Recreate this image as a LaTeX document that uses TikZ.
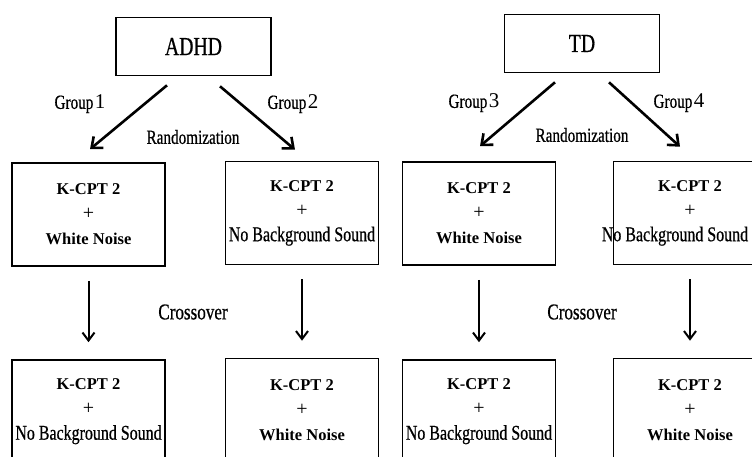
\documentclass[tikz,border=0pt]{standalone}
\usepackage{fontspec}
\setmainfont{Liberation Serif}
\newfontfamily\narrowfont[FakeStretch=0.76, FakeBold=0.6]{Liberation Serif}
\usetikzlibrary{arrows.meta, calc}

\newcommand{\grouplabel}[1]{Group\kern1.5pt{\rmfamily\fontsize{21}{24}\selectfont #1}}
\newcommand{\armtext}[1]{\textbf{K-CPT 2}\\{\fontsize{20}{25}\selectfont +}\\#1}
\newcommand{\nobg}{{\narrowfont\fontsize{21}{25}\selectfont No Background Sound}}
\newcommand{\wnoise}{\textbf{White Noise}}

\begin{document}
\begin{tikzpicture}[x=1pt,y=-1pt,>={Straight Barb[length=9pt,width=15pt]}]
        \tikzset{
            groupbox/.style={draw, line width=1.6pt, minimum width=155pt, minimum height=58pt, font=\narrowfont\fontsize{26}{30}\selectfont},
            armbox/.style={draw, line width=1.6pt, minimum width=153pt, minimum height=103pt, inner sep=0pt, align=center, font=\fontsize{16.5}{25}\selectfont},
            lbl/.style={font=\narrowfont\fontsize{20}{24}\selectfont},
            diag/.style={->, line width=2.6pt},
            vert/.style={-{Straight Barb[length=8pt,width=12pt]}, line width=2pt}
        }
        \useasboundingbox (0,0) rectangle (752,456);
        \clip (0,0) rectangle (752,456);
        % top boxes
        \node[groupbox] (adhd) at (193.5, 46.5) {ADHD};
        \node[groupbox] (td) at (582, 43.5) {TD};
        % first condition
        \node[armbox] (b1) at (88.5, 214.5) {\armtext{\wnoise}};
        \node[armbox] (b2) at (302, 213) {\armtext{\nobg}};
        \node[armbox] (b3) at (479, 213.5) {\armtext{\wnoise}};
        \node[armbox] (b4) at (690, 213) {\armtext{\hspace*{-15pt}\makebox[144pt]{\nobg}\hspace*{15pt}}};
        % after crossover
        \node[armbox] (c1) at (88.5, 411.5) {\armtext{\nobg}};
        \node[armbox] (c2) at (302, 410) {\armtext{\wnoise}};
        \node[armbox] (c3) at (479, 411.5) {\armtext{\nobg}};
        \node[armbox] (c4) at (690, 410) {\armtext{\wnoise}};
        % randomization arrows
        \draw[diag] ($(adhd.south)+(-26.5,9)$) -- ($(b1.north)+(1.5,-13)$);
        \draw[diag] ($(adhd.south)+(26.5,10)$) -- ($(b2.north)+(-7,-11)$);
        \draw[diag] ($(td.south)+(-27,9)$) -- ($(b3.north)+(1,-15)$);
        \draw[diag] ($(td.south)+(27,9)$) -- ($(b4.north)+(-10,-14)$);
        \node[lbl] (g1) at (80, 104) {\grouplabel{1}};
        \node[lbl] (g2) at (293, 104) {\grouplabel{2}};
        \node[lbl] (g3) at (474, 103) {\grouplabel{3}};
        \node[lbl] (g4) at (679, 103) {\grouplabel{4}};
        \node[lbl] (r1) at (193, 137) {Randomization};
        \node[lbl] (r2) at (582, 135) {Randomization};
        % crossover arrows
        \foreach \a/\b in {b1/c1, b2/c2, b3/c3, b4/c4}
            \draw[vert] ($(\a.south)+(0,14)$) -- ($(\b.north)+(0,-17)$);
        \node[lbl, font=\narrowfont\fontsize{22.5}{26}\selectfont] (x1) at (193, 312) {Crossover};
        \node[lbl, font=\narrowfont\fontsize{22.5}{26}\selectfont] (x2) at (582, 312) {Crossover};
    \end{tikzpicture}
\end{document}
